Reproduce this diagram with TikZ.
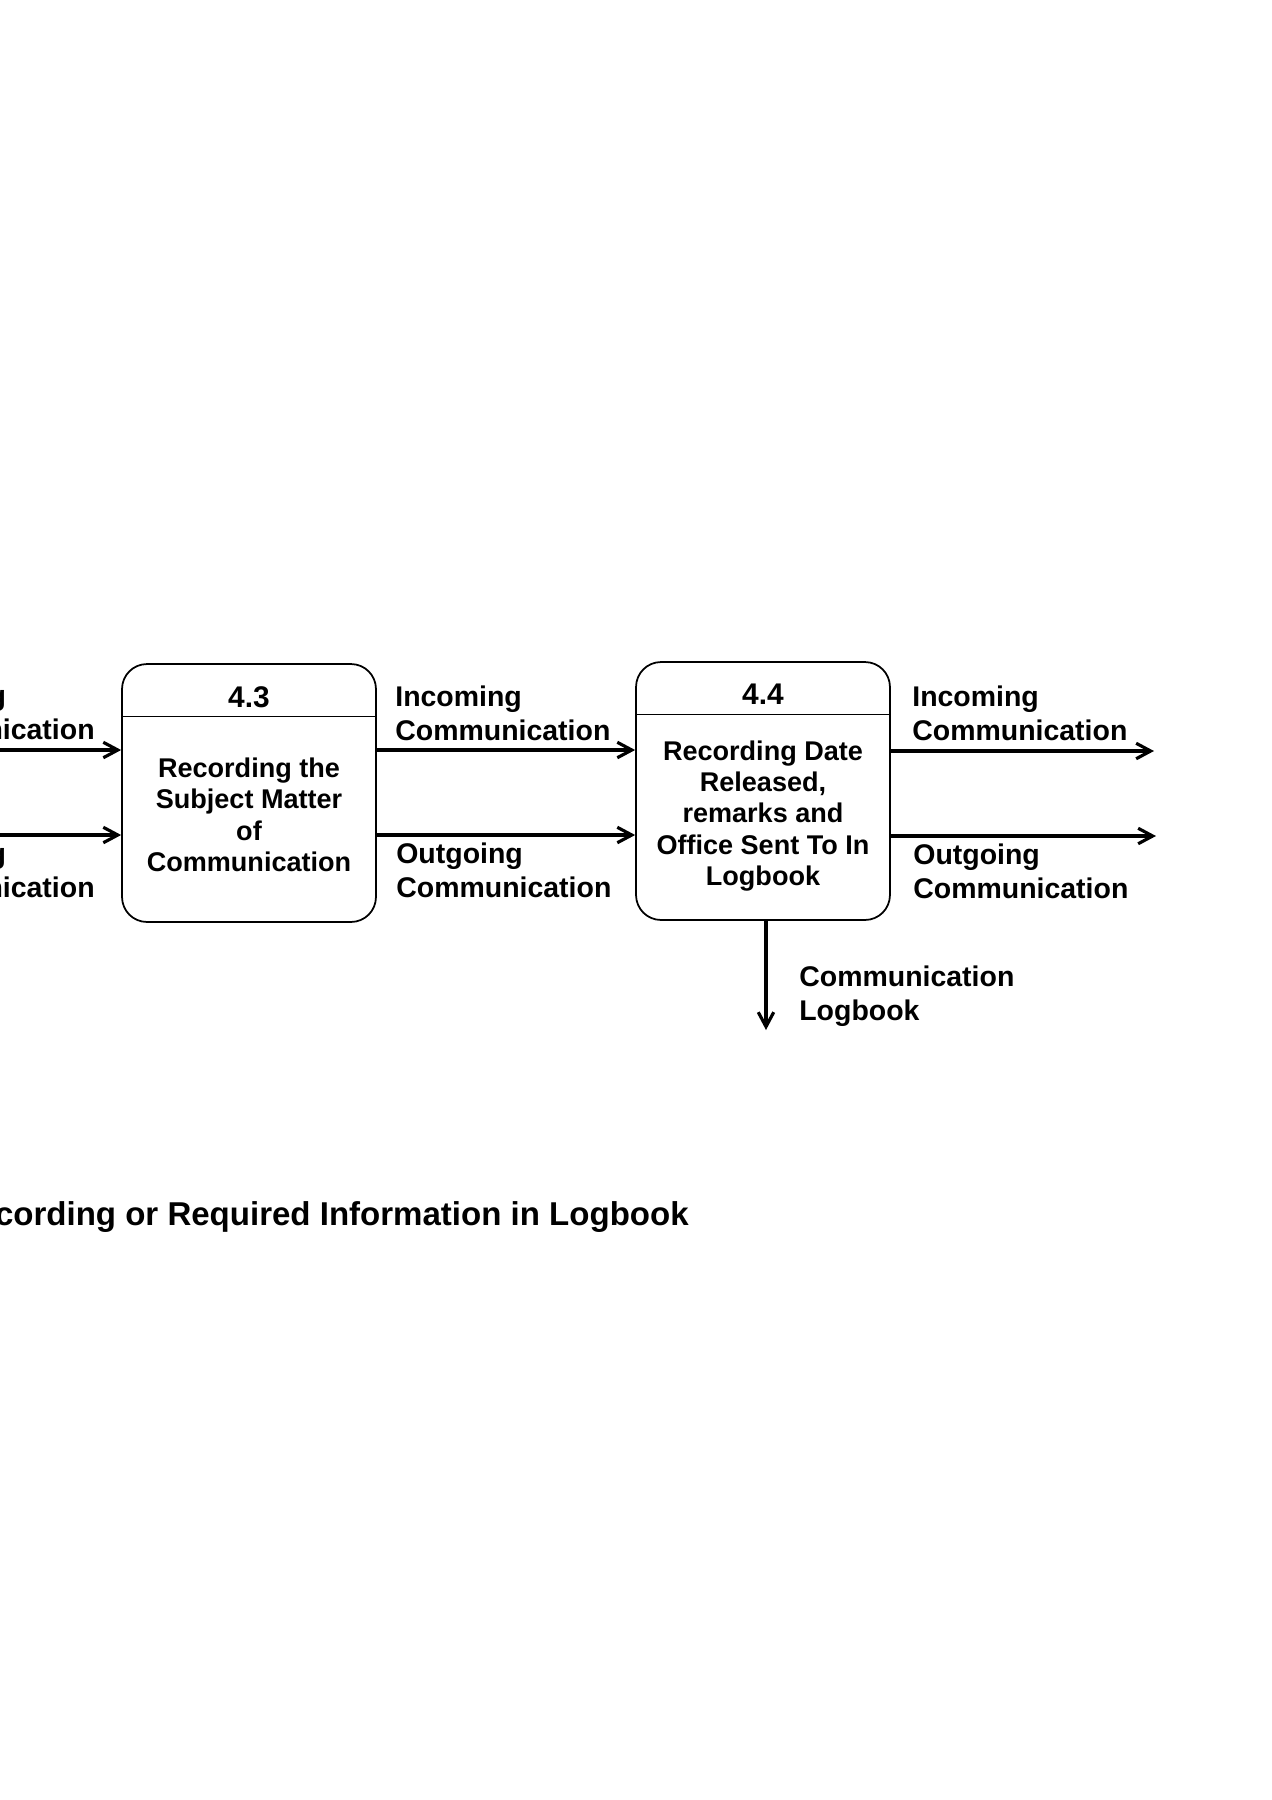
\documentclass[tikz,border=0pt]{standalone}
\usepackage{fontspec}
\setmainfont{Liberation Sans}
\usetikzlibrary{arrows.meta,calc,positioning}

\begin{document}
\begin{tikzpicture}[x=0.02cm, y=-0.02cm,
        every node/.style={inner sep=0pt},
        procbox/.style={draw, line width=1pt, rounded corners=0.5cm,
                        minimum width=5.08cm, minimum height=5.16cm},
        procnum/.style={anchor=base, font=\bfseries\fontsize{17}{20}\selectfont},
        proctext/.style={align=center, font=\bfseries\fontsize{15.4}{17.9}\selectfont},
        flow/.style={line width=1.8pt, -{Straight Barb[length=2.9mm, width=3.1mm]}},
        flowlabel/.style={align=left, font=\bfseries\fontsize{16.2}{19.2}\selectfont}]
    \useasboundingbox (0,0) rectangle (1272,1800);
    \clip (0,0) rectangle (1272,1800);

    % processes
    \node[procbox] (p43) at (249,793) {};
    \node[procbox] (p44) at (763,791) {};
    \draw[line width=0.6pt] ($(p43.north west)+(0,53)$) -- ($(p43.north east)+(0,53)$);
    \draw[line width=0.6pt] ($(p44.north west)+(0,53)$) -- ($(p44.north east)+(0,53)$);
    \node[procnum] (n43) at ($(p43.north)+(0,44)$) {4.3};
    \node[procnum] (n44) at ($(p44.north)+(0,43)$) {4.4};
    \node[proctext] (t43) at ($(p43.center)+(0,22)$)
        {Recording the\\Subject Matter\\of\\Communication};
    \node[proctext] (t44) at ($(p44.center)+(0,25)$)
        {Recording Date\\Released,\\remarks and\\Office Sent To In\\Logbook};

    % flows
    \coordinate (inL) at (-10,750);
    \coordinate (outL) at (-10,835);
    \coordinate (inR) at (1154,751);
    \coordinate (outR) at (1156,836);
    \coordinate (logR) at (766,1030);
    \draw[flow] (inL) -- (inL -| p43.west);
    \draw[flow] (outL) -- (outL -| p43.west);
    \draw[flow] (p43.east |- inL) -- (p44.west |- inL);
    \draw[flow] (p43.east |- outL) -- (p44.west |- outL);
    \draw[flow] (p44.east |- inR) -- (inR);
    \draw[flow] (p44.east |- outR) -- (outR);
    \draw[flow] (p44.south -| logR) -- (logR);

    % flow labels
    \node[flowlabel, anchor=south east] (lin1) at (95,740) {Incoming\\Communication};
    \node[flowlabel, anchor=south east] (lout1) at (95,898) {Outgoing\\Communication};
    \node[flowlabel, anchor=south west] (lin2) at (395,741) {Incoming\\Communication};
    \node[flowlabel, anchor=south west] (lout2) at (396,898) {Outgoing\\Communication};
    \node[flowlabel, anchor=south west] (lin3) at (912,741) {Incoming\\Communication};
    \node[flowlabel, anchor=south west] (lout3) at (913,899) {Outgoing\\Communication};
    \node[flowlabel, anchor=north west] (llog) at (799,966) {Communication\\Logbook};

    \node[anchor=base east, font=\bfseries\fontsize{18.8}{22}\selectfont] (title)
        at (689,1225) {Recording or Required Information in Logbook};
\end{tikzpicture}
\end{document}
